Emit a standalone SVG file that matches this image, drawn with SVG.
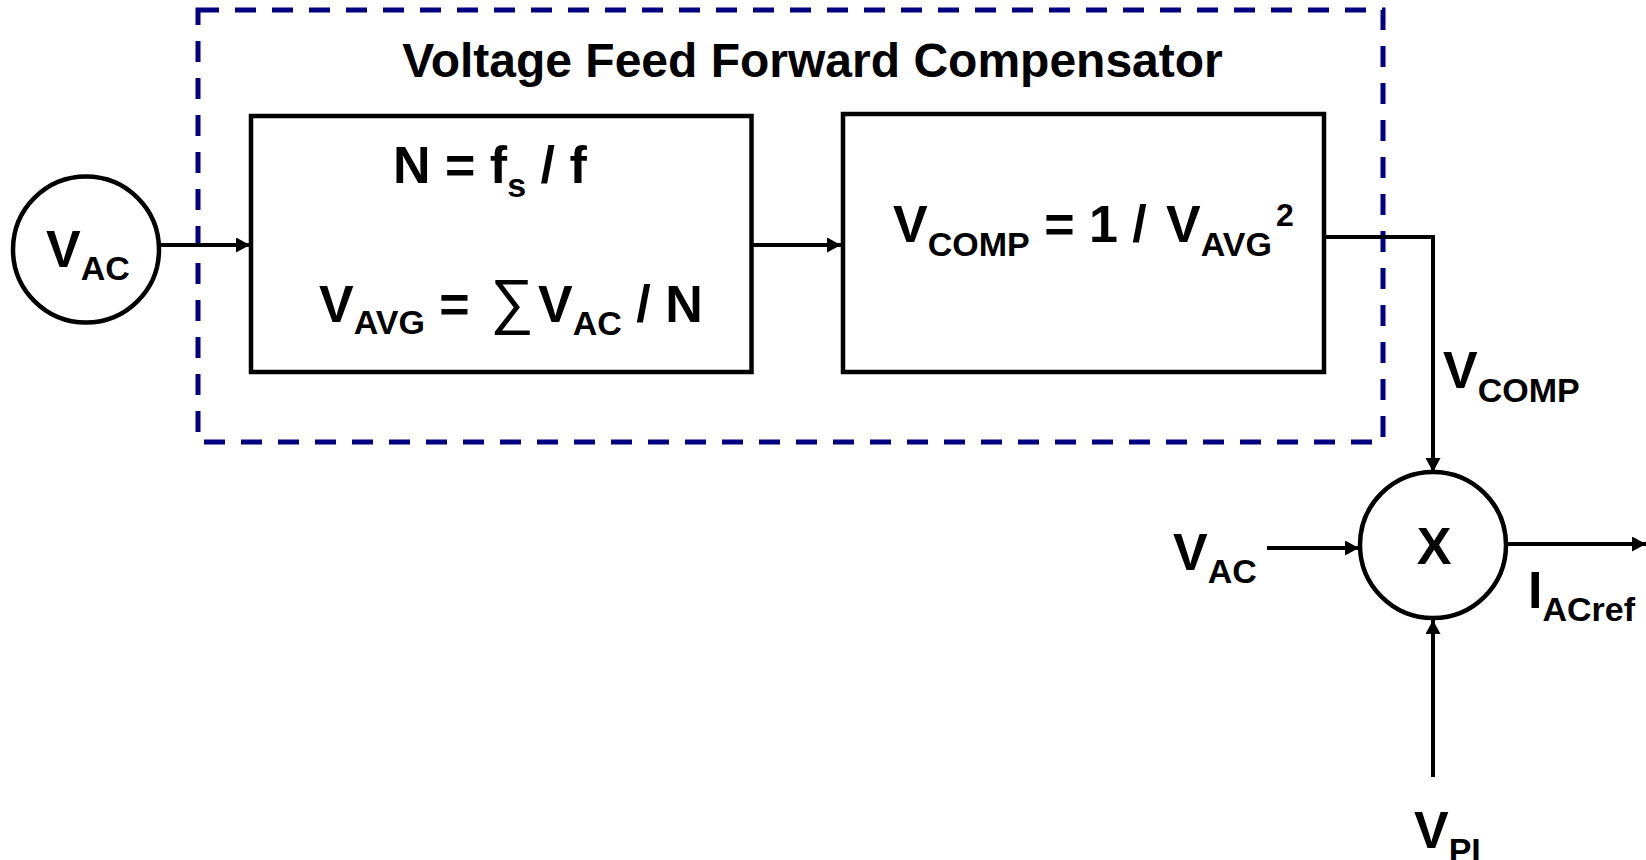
<svg xmlns="http://www.w3.org/2000/svg" width="1646" height="860" viewBox="0 0 1646 860">
<defs>
<style>
.t{font-family:"Liberation Sans",Arial,sans-serif;font-weight:bold;fill:#000}
.m{font-size:52px}
.s{font-size:34px}
.box{fill:#fff;stroke:#000;stroke-width:4.5}
.ln{fill:none;stroke:#000;stroke-width:4}
</style>
<marker id="ah" markerUnits="userSpaceOnUse" markerWidth="14" markerHeight="15" refX="14" refY="7.5" orient="auto">
<path d="M0,0 L14,7.5 L0,15 z" fill="#000"/>
</marker>
</defs>
<rect width="1646" height="860" fill="#fff"/>
<g id="compensator">
<rect x="198" y="10" width="1185" height="432" fill="none" stroke="#000080" stroke-width="5" stroke-dasharray="21 16"/>
<text class="t" x="812.5" y="77" font-size="48" text-anchor="middle">Voltage Feed Forward Compensator</text>
</g>
<g id="connectors">
<path class="ln" d="M159,245 H250" marker-end="url(#ah)"/>
<path class="ln" d="M751,245 H841" marker-end="url(#ah)"/>
<path class="ln" d="M1324,237 H1433 V472" marker-end="url(#ah)"/>
<path class="ln" d="M1267,548 H1359" marker-end="url(#ah)"/>
<path class="ln" d="M1506,544 H1646" marker-end="url(#ah)"/>
<path class="ln" d="M1433,777 V620" marker-end="url(#ah)"/>
</g>
<g id="vac-source">
<circle cx="86" cy="249.5" r="73" class="box"/>
<text class="t m" x="46" y="267">V<tspan class="s" dy="13">AC</tspan></text>
</g>
<g id="averager">
<rect x="251" y="116" width="500.5" height="256" class="box"/>
<text class="t m" x="393" y="183">N = f<tspan class="s" dy="14">s</tspan><tspan dy="-14"> / f</tspan></text>
<text class="t m" x="319" y="322">V<tspan class="s" dy="12">AVG</tspan><tspan dy="-12"> = </tspan></text>
<text x="490" y="322" font-family="'Liberation Sans',Arial,sans-serif" font-size="61">∑</text>
<text class="t m" x="538" y="322">V<tspan class="s" dy="13">AC</tspan><tspan dy="-13"> / N</tspan></text>
</g>
<g id="inverse-square">
<rect x="843" y="114" width="481" height="258" class="box"/>
<text class="t m" x="893" y="242">V<tspan class="s" dy="14">COMP</tspan><tspan dy="-14"> = 1 / </tspan></text>
<text class="t m" x="1166" y="242">V<tspan class="s" dy="14">AVG</tspan><tspan x="1276" y="226" font-size="32">2</tspan></text>
</g>
<g id="multiplier">
<circle cx="1433" cy="545" r="73" class="box"/>
<text class="t m" x="1434" y="564" text-anchor="middle">X</text>
</g>
<g id="labels">
<text class="t m" x="1443" y="388">V<tspan class="s" dy="14">COMP</tspan></text>
<text class="t m" x="1173" y="570">V<tspan class="s" dy="13">AC</tspan></text>
<text class="t m" x="1528" y="608">I<tspan class="s" dy="13">ACref</tspan></text>
<text class="t m" x="1414" y="848">V<tspan class="s" dy="14">PI</tspan></text>
</g>
</svg>
